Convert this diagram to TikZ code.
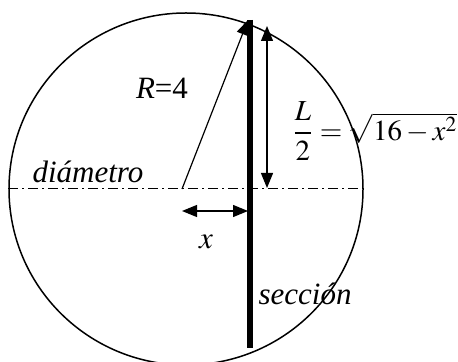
\documentclass[tikz,border=0pt]{standalone}
\usepackage{amsmath}
\usepackage{mathptmx}
\usepackage{fontspec}
\setmainfont{Liberation Serif}
\usepackage{tikz}
\usetikzlibrary{positioning,arrows.meta,calc}

\begin{document}
\begin{tikzpicture}[
  x=0.5pt, y=-0.5pt,
  rim/.style={draw, line width=0.75pt},
  axis/.style={line width=0.5pt, dash pattern=on 5pt off 2pt on 1pt off 2pt},
  cut/.style={line width=3pt},
  ar/.style={-{Triangle[length=7.5pt,width=6pt]}, line width=0.6pt},
  dar/.style={{Triangle[length=7.5pt,width=6pt]}-{Triangle[length=7.5pt,width=6pt]},
              line width=0.6pt},
  lbl/.style={font=\fontsize{15.5}{18}\selectfont, inner sep=1pt},
]
  \useasboundingbox (0,0) rectangle (458,362);

  %% circle and diameter
  \coordinate (O) at (186,189);
  \draw[rim] (O) circle[x radius=177, y radius=176];
  \coordinate (dl) at (8,189);
  \coordinate (dr) at (364,189);
  \draw[axis] (dl) -- (dr);

  %% section
  \coordinate (st) at (250,20);
  \coordinate (sb) at (250,348);
  \draw[cut] (st) -- (sb);

  %% radius R
  \coordinate (c) at (182,189);
  \coordinate (rt) at (248,20);
  \draw[ar] (c) -- (rt);

  %% half length L/2
  \coordinate (lt) at (267,26);
  \coordinate (lb) at (267,188);
  \draw[dar] (lt) -- (lb);

  %% distance x
  \coordinate (xl) at (182,211);
  \coordinate (xr) at (248,211);
  \draw[dar] (xl) -- (xr);

  %% labels
  \node[lbl] (rlab) at (162,88) {\textit{R}=4};
  \node[lbl] (dlab) at (88,172) {\textit{diámetro}};
  \node[lbl] (xlab) at (206,242) {$x$};
  \node[lbl] (slab) at (305,294) {\textit{sección}};
  \node[lbl, font=\fontsize{14.5}{17}\selectfont, anchor=west, inner sep=0pt]
    (flab) at (292,131) {$\dfrac{L}{2}=\sqrt{16-x^{2}}$};
\end{tikzpicture}
\end{document}
